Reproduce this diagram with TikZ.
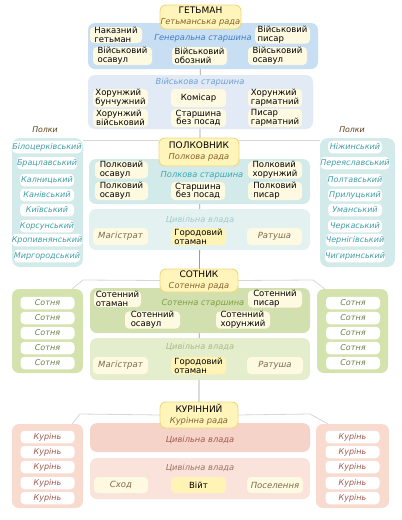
\documentclass[tikz,border=0pt]{standalone}
\usepackage{fontspec}
\setmainfont{DejaVu Sans}
\usetikzlibrary{backgrounds}
\definecolor{titlefill}{HTML}{FFF5BA}
\definecolor{titledraw}{HTML}{EED77C}
\definecolor{subcol}{HTML}{85612D}
\definecolor{cream}{HTML}{FEF9E1}
\definecolor{otfill}{HTML}{FFF3B5}
\definecolor{genfill}{HTML}{C7DEF3}
\definecolor{genlbl}{HTML}{3D7FC4}
\definecolor{milfill}{HTML}{E1EAF5}
\definecolor{millbl}{HTML}{6F9FD6}
\definecolor{polfill}{HTML}{D3EAEA}
\definecolor{pollbl}{HTML}{35A9B0}
\definecolor{pcivfill}{HTML}{E4F1F1}
\definecolor{pcivlbl}{HTML}{9FCBD0}
\definecolor{psidefill}{HTML}{D3EAEA}
\definecolor{psidetxt}{HTML}{3F9EA6}
\definecolor{grnfill}{HTML}{D1E0AE}
\definecolor{grnlbl}{HTML}{7E9F3F}
\definecolor{gcivfill}{HTML}{E5EECC}
\definecolor{gcivlbl}{HTML}{A9BA85}
\definecolor{gsidefill}{HTML}{D4E3AD}
\definecolor{gsidetxt}{HTML}{6E7E45}
\definecolor{magtxt}{HTML}{7B6B4B}
\definecolor{k1fill}{HTML}{F6D3C8}
\definecolor{k1txt}{HTML}{A4594F}
\definecolor{k2fill}{HTML}{FAE3DB}
\definecolor{k2lbl}{HTML}{A36D64}
\definecolor{ksidefill}{HTML}{F8DACF}
\definecolor{ksidetxt}{HTML}{9F5A50}
\definecolor{polkilbl}{HTML}{5A3A10}
\definecolor{vlinecol}{HTML}{9A9A9A}
\definecolor{faintcol}{HTML}{D6D6D6}
\tikzset{
  base/.style={inner sep=0pt, outer sep=0pt, font=\fontsize{8.5}{8.8}\selectfont, align=center},
  panel/.style={base, rounded corners=7pt, draw=none},
  title/.style={base, fill=titlefill, draw=titledraw, line width=0.9pt, rounded corners=6pt, font=\fontsize{9}{11}\selectfont},
  cnode/.style={base, fill=cream, rounded corners=4pt, minimum height=17pt, align=left},
  onode/.style={cnode, fill=otfill},
  inode/.style={cnode, align=center, font=\fontsize{8.5}{8.8}\selectfont\itshape, text=magtxt},
  item/.style={base, fill=white, rounded corners=4pt, minimum width=54pt, minimum height=12.5pt, font=\fontsize{8}{8}\selectfont\itshape},
  lbl/.style={base, font=\fontsize{8.3}{8.3}\selectfont\itshape},
  vline/.style={draw=vlinecol, line width=0.8pt},
  faint/.style={draw=faintcol, line width=0.8pt},
}
\newcommand{\subt}[1]{{\fontsize{8.3}{8.3}\selectfont\itshape\color{subcol}#1}}
\begin{document}
\begin{tikzpicture}[x=1pt,y=-1pt]
\useasboundingbox (0,0) rectangle (402,520);
% ---------------- Hetman level
\node[panel, fill=genfill, minimum width=230pt, minimum height=46pt] (gen) at (203,46) {};
\node[lbl, text=genlbl] (genl) at (203,38) {Генеральна старшина};
\node[cnode, minimum width=52pt, minimum height=16pt] (nak) at (116,35) {Наказний\\гетьман};
\node[cnode, minimum width=55pt, minimum height=16pt] (gpys) at (282.5,35) {Військовий\\писар};
\node[cnode, minimum width=59pt, minimum height=18pt] (gos1) at (122.5,56) {Військовий\\осавул};
\node[cnode, minimum width=55pt, minimum height=18pt] (gobo) at (199.5,56) {Військовий\\обозний};
\node[cnode, minimum width=59pt, minimum height=18pt] (gos2) at (277.5,56) {Військовий\\осавул};
\node[title, minimum width=81pt, minimum height=24pt] (het) at (200.5,17) {ГЕТЬМАН\\\subt{Гетьманська рада}};
% military starshyna
\node[panel, fill=milfill, minimum width=225pt, minimum height=54pt] (mil) at (200.5,102) {};
\node[lbl, text=millbl] (mill) at (200,82) {Військова старшина};
\node[cnode, minimum width=55pt, minimum height=18pt] (hbun) at (120.5,98) {Хорунжий\\бунчужний};
\node[cnode, minimum width=55pt, minimum height=18pt] (kom) at (198.5,98) {Комісар};
\node[cnode, minimum width=54pt, minimum height=18pt] (hhar) at (275,98) {Хорунжий\\гарматний};
\node[cnode, minimum width=55pt, minimum height=18pt] (hvii) at (120.5,118) {Хорунжий\\військовий};
\node[cnode, align=center, minimum width=55pt, minimum height=18pt] (sbp) at (198.5,118) {Старшина\\без посад};
\node[cnode, minimum width=54pt, minimum height=18pt] (phar) at (275,118) {Писар\\гарматний};
% ---------------- Polkovnyk level
\node[panel, fill=psidefill, minimum width=71pt, minimum height=129pt, rounded corners=8pt] (lpolk) at (47.5,202.5) {};
\node[panel, fill=psidefill, minimum width=75pt, minimum height=129pt, rounded corners=8pt] (rpolk) at (357.5,202.5) {};
\node[lbl, text=polkilbl, font=\fontsize{7.8}{8}\selectfont\itshape] (lpl) at (45,130) {Полки};
\node[lbl, text=polkilbl, font=\fontsize{7.8}{8}\selectfont\itshape] (rpl) at (352,130) {Полки};
\foreach \n/\y/\t in {1/147/Білоцерківський,2/163/Брацлавський,3/180/Калницький,4/195/Канівський,5/210/Київський,6/226/Корсунський,7/240/Кропивнянський,8/256/Миргородський}
  \node[item, text=psidetxt] (lp\n) at (47,\y) {\t};
\foreach \n/\y/\t in {1/147/Ніжинський,2/163/Переяславський,3/180/Полтавський,4/195/Прилуцький,5/210/Уманський,6/226/Черкаський,7/240/Чернігівський,8/256/Чигиринський}
  \node[item, text=psidetxt] (rp\n) at (355,\y) {\t};
\node[panel, fill=polfill, minimum width=221pt, minimum height=45pt] (pst) at (199.5,181.5) {};
\node[lbl, text=pollbl] (pstl) at (202,175) {Полкова старшина};
\node[cnode, minimum width=53pt, minimum height=16pt] (pos1) at (121.5,170) {Полковий\\осавул};
\node[cnode, minimum width=54pt, minimum height=16pt] (phor) at (275,170) {Полковий\\хорунжий};
\node[cnode, minimum width=53pt, minimum height=18pt] (pos2) at (121.5,191) {Полковий\\осавул};
\node[cnode, align=center, minimum width=54pt, minimum height=18pt] (psbp) at (198,191) {Старшина\\без посад};
\node[cnode, minimum width=54pt, minimum height=18pt] (ppys) at (275,191) {Полковий\\писар};
\node[title, minimum width=80pt, minimum height=28pt] (polk) at (199,152) {ПОЛКОВНИК\\\subt{Полкова рада}};
\node[panel, fill=pcivfill, minimum width=221pt, minimum height=41pt] (pciv) at (199.5,229.5) {};
\node[lbl, text=pcivlbl] (pcivl) at (200,220) {Цивільна влада};
\node[inode, minimum width=55pt] (pmag) at (120.5,236.5) {Магістрат};
\node[onode, minimum width=55pt] (pota) at (198.5,236.5) {Городовий\\отаман};
\node[inode, minimum width=55pt] (prat) at (274.5,236.5) {Ратуша};
% ---------------- Sotnyk level
\node[panel, fill=gsidefill, minimum width=71pt, minimum height=84pt] (lsot) at (47.5,331) {};
\node[panel, fill=gsidefill, minimum width=71pt, minimum height=84pt] (rsot) at (352.5,331) {};
\foreach \n/\y in {1/303,2/318,3/333,4/348,5/363}{
  \node[item, text=gsidetxt] (ls\n) at (47.5,\y) {Сотня};
  \node[item, text=gsidetxt] (rs\n) at (353,\y) {Сотня};
}
\node[panel, fill=grnfill, minimum width=220pt, minimum height=45pt] (sst) at (200,310.5) {};
\node[lbl, text=grnlbl] (sstl) at (203,303) {Сотенна старшина};
\node[cnode, minimum width=47pt, minimum height=16pt] (sota) at (117.5,299) {Сотенний\\отаман};
\node[cnode, minimum width=54pt, minimum height=16pt] (spys) at (275,299) {Сотенний\\писар};
\node[cnode, minimum width=55pt, minimum height=16pt] (sos) at (152.5,320) {Сотенний\\осавул};
\node[cnode, minimum width=54pt, minimum height=16pt] (shor) at (243,320) {Сотенний\\хорунжий};
\node[title, minimum width=78pt, minimum height=23pt] (sotn) at (199,280.5) {СОТНИК\\\subt{Сотенна рада}};
\node[panel, fill=gcivfill, minimum width=220pt, minimum height=42pt] (sciv) at (200,359) {};
\node[lbl, text=gcivlbl] (scivl) at (200,347) {Цивільна влада};
\node[inode, minimum width=55pt] (smag) at (120.5,365.5) {Магістрат};
\node[onode, minimum width=55pt] (sota2) at (198.5,365.5) {Городовий\\отаман};
\node[inode, minimum width=56pt] (srat) at (275,365.5) {Ратуша};
% ---------------- Kurinnyi level
\node[panel, fill=ksidefill, minimum width=71pt, minimum height=84pt] (lkur) at (47.5,466) {};
\node[panel, fill=ksidefill, minimum width=73pt, minimum height=84pt] (rkur) at (352.5,466) {};
\foreach \n/\y in {1/437,2/452,3/467,4/483,5/498}{
  \node[item, text=ksidetxt] (lk\n) at (47.5,\y) {Курінь};
  \node[item, text=ksidetxt] (rk\n) at (352.5,\y) {Курінь};
}
\node[panel, fill=k1fill, minimum width=220pt, minimum height=29pt] (kciv1) at (200,437.5) {};
\node[lbl, text=k1txt] (kciv1l) at (200,440) {Цивільна влада};
\node[panel, fill=k2fill, minimum width=220pt, minimum height=41pt] (kciv2) at (200,478.5) {};
\node[lbl, text=k2lbl] (kciv2l) at (200,468) {Цивільна влада};
\node[inode, minimum width=54pt, minimum height=16pt] (skhod) at (121,485) {Сход};
\node[onode, align=center, minimum width=55pt, minimum height=16pt] (viyt) at (198.5,485) {Війт};
\node[inode, minimum width=56pt, minimum height=16pt] (posel) at (275,485) {Поселення};
\node[title, minimum width=78pt, minimum height=26pt] (kur) at (199,415) {КУРІННИЙ\\\subt{Курінна рада}};
% ---------------- connectors (behind)
\coordinate (pl1) at (83,140);
\coordinate (pr1) at (320,140);
\coordinate (sl1) at (83,280);
\coordinate (sr1) at (313,280);
\coordinate (kl1) at (80,414);
\coordinate (kr1) at (310,414);
\begin{scope}[on background layer]
  \draw[vline] (het.south) -- (kur.north);
  \draw[faint] (pl1) -- (polk.west |- pl1);
  \draw[faint] (polk.east |- pr1) -- (pr1);
  \draw[faint] (sotn.west) -- (sl1) -- ([xshift=-11pt]lsot.north east);
  \draw[faint] (sotn.east) -- (sr1) -- ([xshift=8pt]rsot.north west);
  \draw[faint] (kur.west) -- (kl1) -- ([xshift=-11pt]lkur.north east);
  \draw[faint] (kur.east) -- (kr1) -- ([xshift=12pt]rkur.north west);
\end{scope}
\end{tikzpicture}
\end{document}
